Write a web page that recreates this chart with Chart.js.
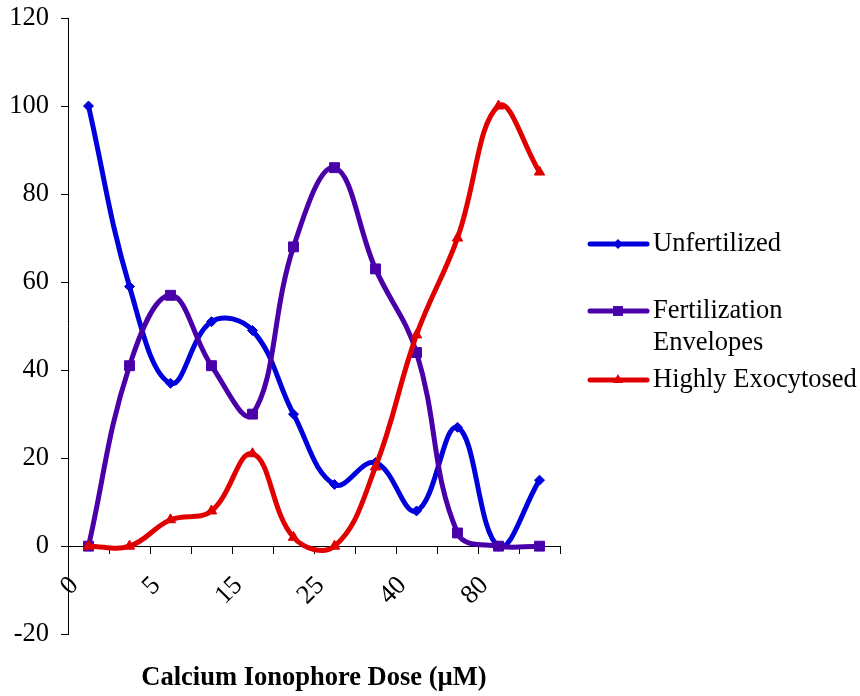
<!DOCTYPE html>
<html>
<head>
<meta charset="utf-8">
<script src="https://cdn.jsdelivr.net/npm/chart.js@4/dist/chart.umd.min.js"></script>
<style>
    html, body { margin: 0; padding: 0; background: #fff; }
</style>
</head>
<body>
<canvas id="chart" width="860" height="696"></canvas>
<script>
// only every other dose is labelled on the original axis
const doseLabels = ['0', '', '5', '', '15', '', '25', '', '40', '', '80', ''];
const yTicks = [-20, 0, 20, 40, 60, 80, 100, 120];

const unfertilized = [100, 59, 37, 51, 49, 30, 14, 19, 8, 27, 0, 15];
const fertEnvelopes = [0, 41, 57, 41, 30, 68, 86, 63, 44, 3, 0, 0];
const highlyExo = [0, 0, 6, 8, 21, 2, 0, 18, 48, 70, 100, 85];

const seriesNames = ['Unfertilized', 'Fertilization Envelopes', 'Highly Exocytosed'];
const seriesColors = ['#0000DC', '#4A00A8', '#E00000'];
const serif = "'Liberation Serif', 'Times New Roman', serif";
const fontSize = 26.5;

// legend drawn by hand so the long entry can wrap onto two lines
const sideLegend = {
    id: 'sideLegend',
    afterDraw(chart) {
        const ctx = chart.ctx;
        const rows = [244, 311, 380];
        ctx.save();
        ctx.font = fontSize + 'px ' + serif;
        ctx.textBaseline = 'middle';
        ctx.textAlign = 'left';
        chart.data.datasets.forEach((ds, i) => {
            const y = rows[i];
            ctx.strokeStyle = ds.borderColor;
            ctx.lineWidth = 5;
            ctx.lineCap = 'round';
            ctx.beginPath();
            ctx.moveTo(590, y);
            ctx.lineTo(647, y);
            ctx.stroke();
            ctx.fillStyle = ds.borderColor;
            Chart.helpers.drawPoint(ctx, {
                pointStyle: ds.pointStyle,
                radius: ds.pointRadius,
                rotation: 0,
                borderWidth: 0,
            }, 618, y);

            // wrap words into lines no wider than 215px
            const words = ds.label.split(' ');
            const lines = [];
            let cur = '';
            words.forEach((w) => {
                const test = cur ? cur + ' ' + w : w;
                if (cur && ctx.measureText(test).width > 215) {
                    lines.push(cur);
                    cur = w;
                } else {
                    cur = test;
                }
            });
            lines.push(cur);
            ctx.fillStyle = '#000';
            lines.forEach((ln, k) => ctx.fillText(ln, 653, y + k * 32));
        });
        ctx.restore();
    },
};

const makeSet = (i, data, style, radius, order) => ({
    label: seriesNames[i],
    data: data,
    borderColor: seriesColors[i],
    backgroundColor: seriesColors[i],
    pointBackgroundColor: seriesColors[i],
    pointBorderColor: seriesColors[i],
    pointStyle: style,
    pointRadius: radius,
    pointBorderWidth: 1,
    borderWidth: 5,
    tension: 0.4,
    fill: false,
    order: order,
});

new Chart(document.getElementById('chart').getContext('2d'), {
    type: 'line',
    data: {
        labels: doseLabels,
        datasets: [
            makeSet(0, unfertilized, 'rectRot', 5, 3),
            makeSet(1, fertEnvelopes, 'rect', 7, 2),
            makeSet(2, highlyExo, 'triangle', 6, 1),
        ],
    },
    options: {
        responsive: false,
        animation: false,
        layout: {
            padding: { top: 18, right: 300, left: 0, bottom: 0 },
        },
        plugins: {
            legend: { display: false },
            tooltip: { enabled: false },
            title: {
                display: true,
                position: 'bottom',
                fullSize: false,
                text: 'Calcium Ionophore Dose (µM)',
                color: '#000',
                font: { family: serif, size: fontSize, weight: 'bold' },
                padding: { top: 28, bottom: 2 },
            },
        },
        scales: {
            x: {
                type: 'category',
                position: { y: 0 },
                offset: true,
                grid: {
                    offset: true,
                    drawOnChartArea: false,
                    drawTicks: true,
                    tickLength: 7,
                    color: '#000',
                },
                border: { display: true, color: '#000', width: 1 },
                ticks: {
                    autoSkip: false,
                    minRotation: 45,
                    maxRotation: 45,
                    color: '#000',
                    font: { family: serif, size: fontSize },
                    padding: 17,
                    labelOffset: -14,
                },
            },
            y: {
                min: yTicks[0],
                max: yTicks[yTicks.length - 1],
                afterFit: (scale) => {
                    scale.width = 68;
                    scale.paddingTop = 0;
                    scale.paddingBottom = 0;
                },
                afterBuildTicks: (scale) => {
                    scale.ticks = yTicks.map((v) => ({ value: v }));
                },
                grid: {
                    drawOnChartArea: false,
                    drawTicks: true,
                    tickLength: 7,
                    color: '#000',
                },
                border: { display: true, color: '#000', width: 1 },
                ticks: {
                    color: '#000',
                    font: { family: serif, size: fontSize },
                    padding: 12,
                },
            },
        },
    },
    plugins: [sideLegend],
});
</script>
</body>
</html>
